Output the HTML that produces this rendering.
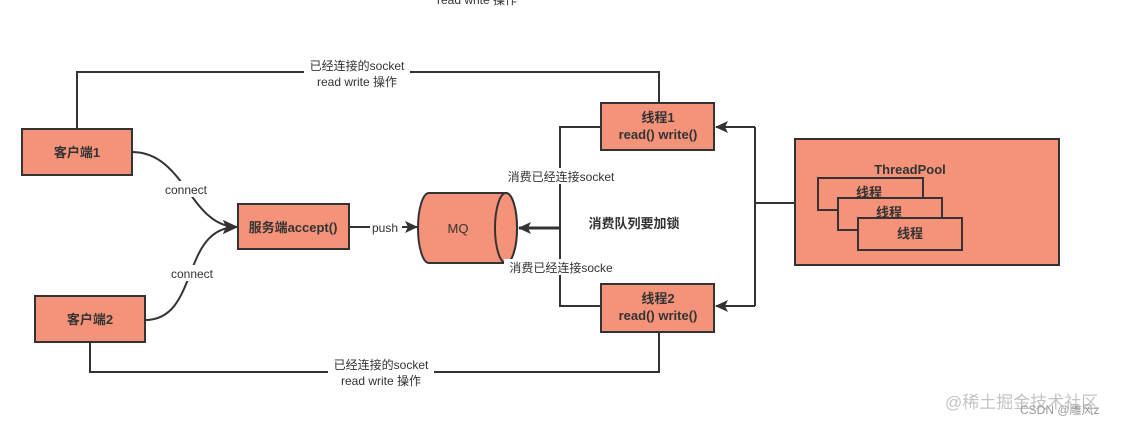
<!DOCTYPE html>
<html><head><meta charset="utf-8"><style>
html,body{margin:0;padding:0;background:#fff;}
svg text{font-family:"Liberation Sans","Noto Sans CJK SC",sans-serif;fill:#333;}
</style></head><body>
<svg width="1123" height="428" viewBox="0 0 1123 428" xmlns="http://www.w3.org/2000/svg">
<defs>
<marker id="a" markerWidth="13" markerHeight="12" refX="12" refY="6" orient="auto" markerUnits="userSpaceOnUse"><path d="M0,0 L13,6 L0,12 L3,6 Z" fill="#333"/></marker>
<marker id="b" markerWidth="15" markerHeight="14" refX="14" refY="7" orient="auto" markerUnits="userSpaceOnUse"><path d="M0,0 L15,7 L0,14 L3,7 Z" fill="#333"/></marker>
</defs>
<text x="477" y="4" font-size="12" text-anchor="middle">read write 操作</text>
<g fill="none" stroke="#333" stroke-width="2">
<polyline points="77,129 77,72 659,72 659,102"/>
<polyline points="90,342 90,372 659,372 659,332"/>
<path d="M132,152 C185,152 190,227 237,227" marker-end="url(#b)"/>
<path d="M145,320 C200,320 180,227 237,227" marker-end="url(#b)"/>
<line x1="349" y1="227" x2="417" y2="227" marker-end="url(#a)"/>
<polyline points="601,127 560,127 560,306 601,306"/>
<line x1="560" y1="228" x2="519" y2="228" stroke-width="3" marker-end="url(#a)"/>
<polyline points="795,203 755,203"/>
<polyline points="755,127 755,306"/>
<line x1="755" y1="127" x2="716" y2="127" marker-end="url(#a)"/>
<line x1="755" y1="306" x2="716" y2="306" marker-end="url(#a)"/>
</g>
<g fill="#f4937a" stroke="#333" stroke-width="2">
<rect x="22" y="129" width="110" height="46"/>
<rect x="35" y="296" width="110" height="46"/>
<rect x="238" y="204" width="111" height="45"/>
<rect x="601" y="103" width="113" height="47"/>
<rect x="601" y="284" width="113" height="48"/>
<rect x="795" y="139" width="264" height="126"/>
<rect x="818" y="178" width="105" height="32"/>
<rect x="838" y="198" width="104" height="32"/>
<rect x="858" y="218" width="104" height="32"/>
<path d="M429,193 L506,193 A11,35 0 0 1 506,263 L429,263 A11,35 0 0 1 429,193 Z"/>
<ellipse cx="506" cy="228" rx="11" ry="35"/>
</g>
<g font-size="12" text-anchor="middle">
<rect x="304" y="58" width="106" height="30" fill="#fff"/>
<text x="357" y="70">已经连接的socket</text>
<text x="357" y="86">read write 操作</text>
<rect x="328" y="358" width="106" height="30" fill="#fff"/>
<text x="381" y="369">已经连接的socket</text>
<text x="381" y="385">read write 操作</text>
<rect x="160" y="181" width="52" height="16" fill="#fff"/>
<text x="186" y="194">connect</text>
<rect x="166" y="265" width="52" height="16" fill="#fff"/>
<text x="192" y="278">connect</text>
<rect x="370" y="220" width="32" height="15" fill="#fff"/>
<text x="385" y="232">push</text>
<rect x="502" y="168" width="118" height="16" fill="#fff"/>
<text x="561" y="181">消费已经连接socket</text>
<rect x="504" y="259" width="114" height="16" fill="#fff"/>
<text x="561" y="272">消费已经连接socke</text>
<text x="458" y="233" font-size="13">MQ</text>
</g>
<g font-size="13" text-anchor="middle" font-weight="bold">
<text x="77" y="157">客户端1</text>
<text x="90" y="324">客户端2</text>
<text x="293" y="232">服务端accept()</text>
<text x="658" y="122">线程1</text>
<text x="658" y="139">read() write()</text>
<text x="658" y="303">线程2</text>
<text x="658" y="320">read() write()</text>
<text x="634" y="228">消费队列要加锁</text>
<text x="910" y="174">ThreadPool</text>
<text x="869" y="197">线程</text>
<text x="889" y="217">线程</text>
<text x="910" y="238">线程</text>
</g>
<text x="945" y="408" font-size="17" style="fill:#c4c4c4">@稀土掘金技术社区</text>
<text x="1020" y="414" font-size="12" style="fill:#999">CSDN @雕风z</text>
</svg>
</body></html>
